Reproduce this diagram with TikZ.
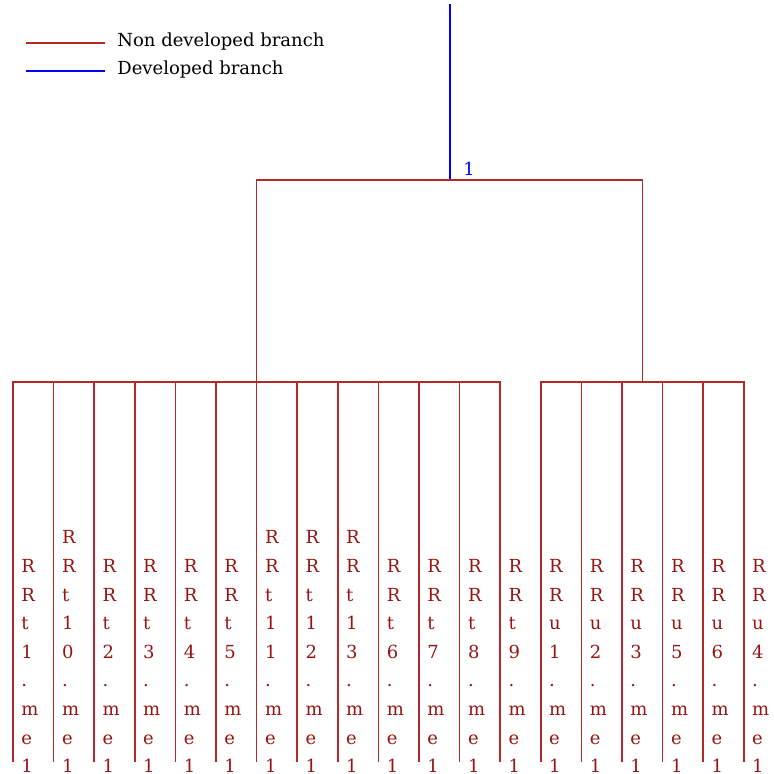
\documentclass[tikz,border=0pt]{standalone}
\usepackage{fontspec}
\setmainfont{DejaVu Serif}
\usetikzlibrary{positioning}
\definecolor{brick}{RGB}{180,40,40}
\definecolor{bricktext}{RGB}{150,20,20}
\definecolor{devblue}{RGB}{0,0,255}
\tikzset{
	nondev/.style={color=brick, line width=.75pt},
	dev/.style={color=devblue, line width=1pt},
	leaflabel/.style={anchor=south west, inner sep=0, align=left, text=bricktext, font=\fontsize{9}{14.3}\selectfont},
	legendtext/.style={anchor=base west, inner sep=0, font=\fontsize{9}{14}\selectfont},
	nodelabel/.style={anchor=base, inner sep=0, text=devblue, font=\fontsize{9}{14}\selectfont}
}
\begin{document}
\begin{tikzpicture}[x=.5pt, y=-.5pt]
	\useasboundingbox (0,0) rectangle (773,774);
	
	\coordinate (A1) at (26,43);
	\coordinate (A2) at (105,43);
	\coordinate (B1) at (26,71);
	\coordinate (B2) at (105,71);
	\draw[nondev] (A1) -- (A2);
	\draw[dev] (B1) -- (B2);
	\node[legendtext] (LA) at (117,47) {Non developed branch};
	\node[legendtext] (LB) at (117,75) {Developed branch};
	
	\coordinate (top) at (450,4);
	\coordinate (J) at (450,180);
	\coordinate (P1) at (256.6,382);
	\coordinate (P2) at (642.3,382);
	\draw[dev] (top) -- (J);
	\draw[nondev] (J) -| (P1);
	\draw[nondev] (J) -| (P2);
	\node[nodelabel] (N1) at (469,176) {1};
	
	\coordinate (L1) at (13,762);
	\coordinate (L2) at (53.6,762);
	\coordinate (L3) at (94.2,762);
	\coordinate (L4) at (134.8,762);
	\coordinate (L5) at (175.4,762);
	\coordinate (L6) at (216,762);
	\coordinate (L7) at (256.6,762);
	\coordinate (L8) at (297.2,762);
	\coordinate (L9) at (337.8,762);
	\coordinate (L10) at (378.4,762);
	\coordinate (L11) at (419,762);
	\coordinate (L12) at (459.6,762);
	\coordinate (L13) at (500.2,762);
	\coordinate (L14) at (540.8,762);
	\coordinate (L15) at (581.4,762);
	\coordinate (L16) at (622,762);
	\coordinate (L17) at (662.6,762);
	\coordinate (L18) at (703.2,762);
	\coordinate (L19) at (743.8,762);
	
	\foreach \i in {1,...,13}
		\draw[nondev] (P1) -| (L\i);
	\foreach \i in {14,...,19}
		\draw[nondev] (P2) -| (L\i);
	
	\node[leaflabel] (T1) at (21,773) {R\\R\\t\\1\\.\\m\\e\\1};
	\node[leaflabel] (T2) at (61.6,773) {R\\R\\t\\1\\0\\.\\m\\e\\1};
	\node[leaflabel] (T3) at (102.2,773) {R\\R\\t\\2\\.\\m\\e\\1};
	\node[leaflabel] (T4) at (142.8,773) {R\\R\\t\\3\\.\\m\\e\\1};
	\node[leaflabel] (T5) at (183.4,773) {R\\R\\t\\4\\.\\m\\e\\1};
	\node[leaflabel] (T6) at (224,773) {R\\R\\t\\5\\.\\m\\e\\1};
	\node[leaflabel] (T7) at (264.6,773) {R\\R\\t\\1\\1\\.\\m\\e\\1};
	\node[leaflabel] (T8) at (305.2,773) {R\\R\\t\\1\\2\\.\\m\\e\\1};
	\node[leaflabel] (T9) at (345.8,773) {R\\R\\t\\1\\3\\.\\m\\e\\1};
	\node[leaflabel] (T10) at (386.4,773) {R\\R\\t\\6\\.\\m\\e\\1};
	\node[leaflabel] (T11) at (427,773) {R\\R\\t\\7\\.\\m\\e\\1};
	\node[leaflabel] (T12) at (467.6,773) {R\\R\\t\\8\\.\\m\\e\\1};
	\node[leaflabel] (T13) at (508.2,773) {R\\R\\t\\9\\.\\m\\e\\1};
	\node[leaflabel] (T14) at (548.8,773) {R\\R\\u\\1\\.\\m\\e\\1};
	\node[leaflabel] (T15) at (589.4,773) {R\\R\\u\\2\\.\\m\\e\\1};
	\node[leaflabel] (T16) at (630,773) {R\\R\\u\\3\\.\\m\\e\\1};
	\node[leaflabel] (T17) at (670.6,773) {R\\R\\u\\5\\.\\m\\e\\1};
	\node[leaflabel] (T18) at (711.2,773) {R\\R\\u\\6\\.\\m\\e\\1};
	\node[leaflabel] (T19) at (751.8,773) {R\\R\\u\\4\\.\\m\\e\\1};
\end{tikzpicture}
\end{document}
